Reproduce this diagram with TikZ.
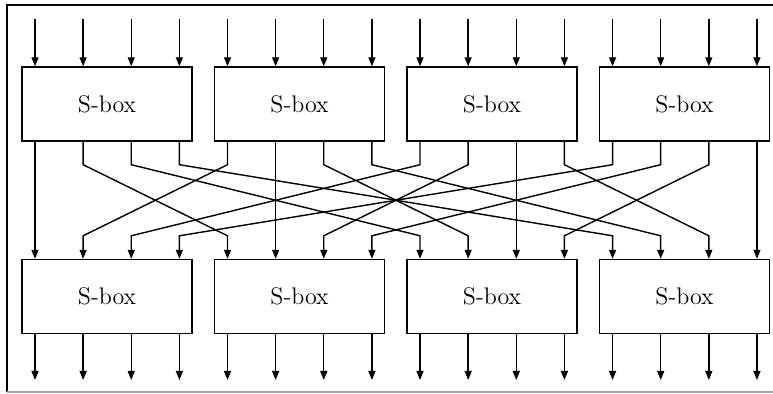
\documentclass[tikz,border=0pt]{standalone}
\usepackage{tikz}
\usetikzlibrary{arrows.meta}

\begin{document}
\begin{tikzpicture}[x=0.5pt,y=-0.5pt,>={Triangle[length=4.5pt,width=3.5pt]},line width=0.7pt]
\tikzset{sbox/.style={draw,minimum width=85pt,minimum height=37pt,inner sep=0pt,font=\large}}
\useasboundingbox (0,0) rectangle (773,394);
\draw (790,5) -- (7,5) -- (7,392);
\draw [black!35] (7,392) -- (790,392);
% bit positions
\foreach \k in {0,...,15} {
    \coordinate (in\k) at (35+48.13*\k,19);
    \coordinate (out\k) at (35+48.13*\k,380);
}
% two rows of S-boxes
\foreach \j in {0,...,3} {
    \node [sbox] (t\j) at (107+192.5*\j,104) {S-box};
    \node [sbox] (b\j) at (107+192.5*\j,296.5) {S-box};
}
\foreach \k in {0,...,15} {
    \pgfmathtruncatemacro\grp{\k/4}
    \draw [->] (in\k) -- (in\k |- t\grp.north);
    \draw [->] (out\k |- b\grp.south) -- (out\k);
}
% permutation: bit i of box j goes to bit j of box i
\foreach \j in {0,...,3}
    \foreach \i in {0,...,3} {
        \pgfmathtruncatemacro\src{4*\j+\i}
        \pgfmathtruncatemacro\dst{4*\i+\j}
        \draw [->] (t\j.south -| in\src) -- ++(0,23)
            -- ([yshift=11.5pt]b\i.north -| in\dst) -- (b\i.north -| in\dst);
    }
\end{tikzpicture}
\end{document}
